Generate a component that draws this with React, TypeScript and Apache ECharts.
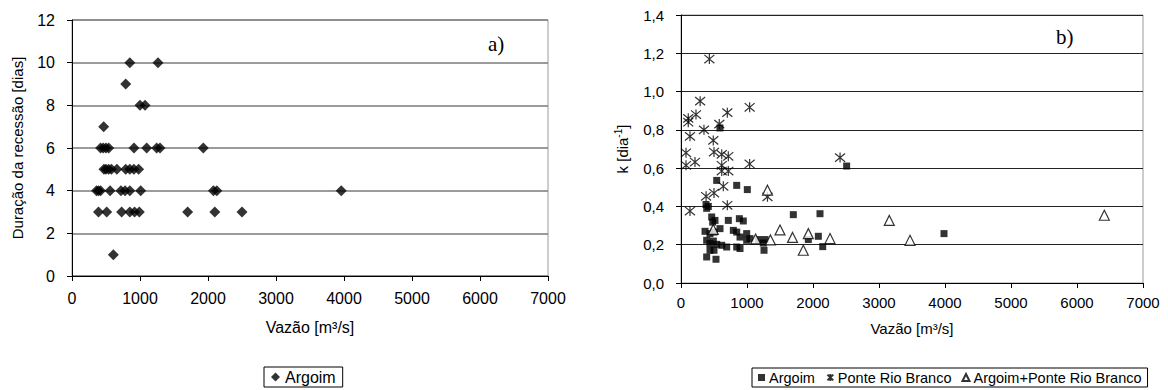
import React, { useEffect, useRef } from "react";
import * as echarts from "echarts";

// ---- Chart a) : Duração da recessão vs Vazão (Argoim)
const durArgoim: [number, number][] = [
  [850, 10], [1265, 10],
  [790, 9],
  [1000, 8], [1074, 8],
  [466, 7],
  [420, 6], [460, 6], [500, 6], [540, 6], [912, 6], [1098, 6], [1245, 6], [1294, 6], [1931, 6],
  [470, 5], [500, 5], [540, 5], [580, 5], [660, 5], [790, 5], [850, 5], [910, 5], [980, 5],
  [360, 4], [390, 4], [420, 4], [560, 4], [720, 4], [780, 4], [850, 4], [1010, 4], [2080, 4], [2130, 4], [3960, 4],
  [390, 3], [510, 3], [730, 3], [850, 3], [920, 3], [990, 3], [1700, 3], [2100, 3], [2500, 3],
  [608, 1],
];

// ---- Chart b) : k vs Vazão
const kArgoim: [number, number][] = [
  [364, 0.27], [379, 0.41], [389, 0.39], [414, 0.40], [389, 0.223], [389, 0.136],
  [439, 0.258], [439, 0.206], [439, 0.171], [465, 0.345], [480, 0.318], [490, 0.219],
  [500, 0.266], [500, 0.171], [515, 0.327], [530, 0.124], [541, 0.536], [541, 0.202],
  [590, 0.81], [591, 0.284], [617, 0.197], [692, 0.188], [717, 0.327], [793, 0.275],
  [844, 0.51], [844, 0.266], [844, 0.188], [884, 0.336], [894, 0.24], [894, 0.18],
  [944, 0.324], [995, 0.258], [995, 0.223], [1005, 0.488], [1045, 0.232], [1172, 0.227],
  [1247, 0.209], [1258, 0.171], [1273, 0.227], [1702, 0.357], [1929, 0.227], [2081, 0.244],
  [2106, 0.362], [2147, 0.19], [2510, 0.611], [3985, 0.258],
];

const kPonte: [number, number][] = [
  [76, 0.68], [76, 0.615], [110, 0.86], [110, 0.84], [136, 0.766], [136, 0.376],
  [212, 0.632], [227, 0.88], [290, 0.95], [348, 0.80], [380, 0.453], [430, 1.17],
  [489, 0.745], [500, 0.47], [500, 0.684], [580, 0.83], [617, 0.672], [617, 0.615],
  [617, 0.585], [641, 0.505], [702, 0.89], [702, 0.406], [717, 0.662], [717, 0.585],
  [1040, 0.918], [1040, 0.622], [1310, 0.45], [2410, 0.655],
];

const kCombined: [number, number][] = [
  [489, 0.28], [1130, 0.23], [1310, 0.485], [1355, 0.225], [1500, 0.277], [1690, 0.238],
  [1853, 0.171], [1929, 0.258], [2258, 0.232], [3156, 0.327], [3470, 0.223], [6414, 0.354],
];

const seriesNames = ["Argoim", "Ponte Rio Branco", "Argoim+Ponte Rio Branco"];
const xAxisName = "Vazão [m³/s]";
const yNameA = "Duração da recessão [dias]";

const ASTERISK = "path://M0,0L10,10M10,0L0,10M5,-1L5,11";
const FONT = "Arial";

export default function App() {
  const ref = useRef<HTMLDivElement>(null);
  useEffect(() => {
    if (!ref.current) return;
    const chart = echarts.init(ref.current, undefined, { renderer: "svg" });
    const axisCommon = {
      axisLine: { show: true, lineStyle: { color: "#000", width: 1 } },
      axisTick: { show: true, inside: false, length: 5, lineStyle: { color: "#000" } },
    };
    const plain = (v: number) => String(v);
    chart.setOption({
      animation: false,
      backgroundColor: "#fff",
      textStyle: { fontFamily: FONT, color: "#000" },
      grid: [
        { left: 72, top: 20, width: 476, height: 256, show: true, borderColor: "#9a9a9a", borderWidth: 1, containLabel: false },
        { left: 681, top: 15, width: 462, height: 268, show: true, borderColor: "#9a9a9a", borderWidth: 1, containLabel: false },
      ],
      xAxis: [
        {
          gridIndex: 0, type: "value", min: 0, max: 7000, interval: 1000, ...axisCommon,
          splitLine: { show: false },
          axisLabel: { color: "#000", fontSize: 16, fontFamily: FONT, margin: 14, formatter: plain },
          name: xAxisName, nameLocation: "middle", nameGap: 43,
          nameTextStyle: { color: "#000", fontSize: 16, fontFamily: FONT },
        },
        {
          gridIndex: 1, type: "value", min: 0, max: 7000, interval: 1000, ...axisCommon,
          splitLine: { show: false },
          axisLabel: { color: "#000", fontSize: 15, fontFamily: FONT, margin: 12, formatter: plain },
          name: xAxisName, nameLocation: "middle", nameGap: 38,
          nameTextStyle: { color: "#000", fontSize: 15, fontFamily: FONT },
        },
      ],
      yAxis: [
        {
          gridIndex: 0, type: "value", min: 0, max: 12, interval: 2, ...axisCommon,
          splitLine: { show: true, lineStyle: { color: "#7a7a7a", width: 1.5 } },
          axisLabel: { color: "#000", fontSize: 16, fontFamily: FONT, margin: 17, formatter: plain },
          name: yNameA, nameLocation: "middle", nameGap: 47, nameRotate: 90,
          nameTextStyle: { color: "#000", fontSize: 15, fontFamily: FONT },
        },
        {
          gridIndex: 1, type: "value", min: 0, max: 1.4, interval: 0.2, ...axisCommon,
          splitLine: { show: true, lineStyle: { color: "#222", width: 1 } },
          axisLabel: {
            color: "#000", fontSize: 15, fontFamily: FONT, margin: 17,
            formatter: (v: number) => v.toFixed(1).replace(".", ","),
          },
          name: "k [dia{sup|-1}]", nameLocation: "middle", nameGap: 50, nameRotate: 90,
          nameTextStyle: {
            color: "#000", fontSize: 15, fontFamily: FONT,
            rich: { sup: { fontSize: 10, fontFamily: FONT, color: "#000", verticalAlign: "bottom", padding: [0, 0, 8, 0] } },
          },
        },
      ],
      legend: [
        {
          data: [seriesNames[0]].map((n) => ({ name: n })),
          left: 264, top: 367, orient: "horizontal",
          borderColor: "#000", borderWidth: 1, padding: [2, 7, 2, 7],
          itemWidth: 9, itemHeight: 9, itemGap: 6,
          textStyle: { color: "#000", fontSize: 16, fontFamily: FONT },
        },
        {
          data: ["A_k", "P_k", "C_k"].map((n) => ({ name: n })),
          left: 752, top: 368, orient: "horizontal",
          formatter: (n: string) => (n === "A_k" ? seriesNames[0] : n === "P_k" ? seriesNames[1] : seriesNames[2]),
          borderColor: "#000", borderWidth: 1, padding: [2, 6, 2, 6],
          itemWidth: 7, itemHeight: 7, itemGap: 10,
          textStyle: { color: "#000", fontSize: 14.5, fontFamily: FONT, padding: [0, 0, 0, -1] },
        },
      ],
      graphic: [
        { type: "text", left: 488, top: 33, style: { text: "a)", font: "21px 'Liberation Serif', 'Times New Roman', serif", fill: "#000" } },
        { type: "text", left: 1056, top: 26, style: { text: "b)", font: "21px 'Liberation Serif', 'Times New Roman', serif", fill: "#000" } },
      ],
      series: [
        {
          name: "Argoim", type: "scatter", xAxisIndex: 0, yAxisIndex: 0,
          symbol: "diamond", symbolSize: 11, data: durArgoim,
          itemStyle: { color: "#000" },
        },
        {
          name: "A_k", type: "scatter", xAxisIndex: 1, yAxisIndex: 1,
          symbol: "rect", symbolSize: 7, data: kArgoim,
          itemStyle: { color: "#000" },
        },
        {
          name: "P_k", type: "scatter", xAxisIndex: 1, yAxisIndex: 1,
          symbol: ASTERISK, symbolSize: 10, data: kPonte,
          itemStyle: { color: "none", borderColor: "#000", borderWidth: 1.2 },
        },
        {
          name: "C_k", type: "scatter", xAxisIndex: 1, yAxisIndex: 1,
          symbol: "triangle", symbolSize: 10, data: kCombined,
          itemStyle: { color: "#fff", borderColor: "#000", borderWidth: 1.2 },
        },
      ],
    });
    return () => chart.dispose();
  }, []);
  return <div ref={ref} style={{ position: "fixed", left: 0, top: 0, width: 1168, height: 390 }} />;
}
